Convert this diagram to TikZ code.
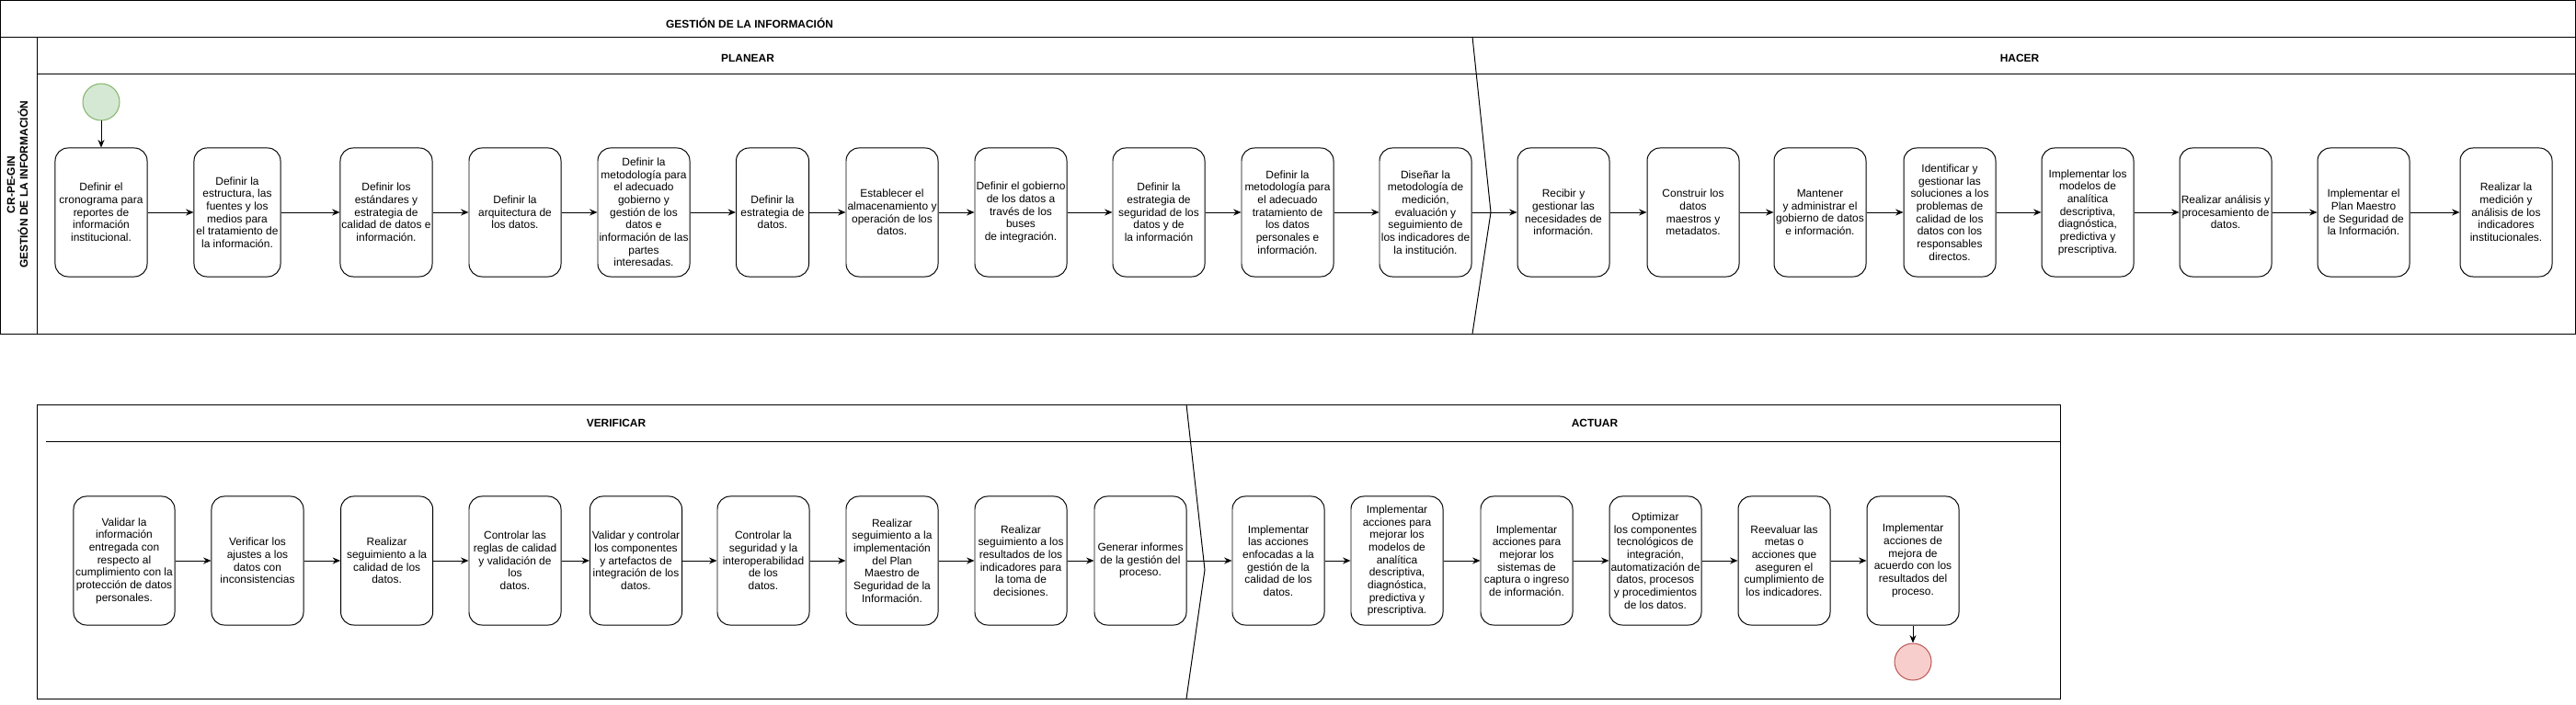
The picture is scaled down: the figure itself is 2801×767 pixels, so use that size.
\documentclass[tikz,border=0pt]{standalone}
\usepackage{fontspec}
\setmainfont{Liberation Sans}
\usetikzlibrary{arrows.meta}
\definecolor{verdeini}{HTML}{D5E8D4}
\definecolor{verdeborde}{HTML}{82B366}
\definecolor{rojofin}{HTML}{F8CECC}
\definecolor{rojoborde}{HTML}{B85450}

\begin{document}
\begin{tikzpicture}[x=0.025cm, y=-0.025cm, line width=0.7pt,
  paso/.style={draw, rounded corners=0.35cm, align=center, minimum width=2.5cm,
    minimum height=3.5cm, inner sep=1pt, font=\fontsize{8.5}{9.7}\selectfont},
  flecha/.style={-{Stealth[length=6pt,width=5pt,inset=2pt]}},
  titulo/.style={font=\fontsize{8.5}{10}\selectfont\bfseries}]
\useasboundingbox (0,0) rectangle (2801,767);
% marco superior (planear y hacer)
\draw (0.7,0.7) rectangle (2800,363);
\draw (0.7,40) -- (2800,40);
\draw (40,40) -- (40,363);
\draw (40,80) -- (2800,80);
\draw (1601,40) -- (1621,231) -- (1601,363); % separador de fases
\node[titulo] (titulo) at (815,25) {GESTIÓN DE LA INFORMACIÓN};
\node[titulo, rotate=90, align=center] (carril) at (19,201) {CR-PE-GIN\\GESTIÓN DE LA INFORMACIÓN};
\node[titulo] (planear) at (813,63) {PLANEAR};
\node[titulo] (hacer) at (2196,63) {HACER};
% marco inferior (verificar y actuar)
\draw (40,440) rectangle (2240,760);
\draw (50,480) -- (2240,480);
\draw (1290,440) -- (1310,620) -- (1290,760); % separador de fases
\node[titulo] (verificar) at (670,460) {VERIFICAR};
\node[titulo] (actuar) at (1734,460) {ACTUAR};
% inicio
\node[circle, draw=verdeborde, fill=verdeini, minimum size=1cm, inner sep=0pt] (inicio) at (110,111) {};
% actividades de planear
\node[paso] (t1) at (110,231) {Definir el\\cronograma para\\reportes de\\información\\institucional.};
\node[paso, minimum width=2.35cm] (t2) at (258,231) {Definir la\\estructura, las\\fuentes y los\\medios para\\el tratamiento de\\la información.};
\node[paso] (t3) at (420,231) {Definir los\\estándares y\\estrategia de\\calidad de datos e\\información.};
\node[paso] (t4) at (560,231) {Definir la\\arquitectura de\\los datos.};
\node[paso] (t5) at (700,231) {Definir la\\metodología para\\el adecuado\\gobierno y\\gestión de los\\datos e\\información de las\\partes\\interesadas.};
\node[paso, minimum width=1.975cm] (t6) at (840,231) {Definir la\\estrategia de\\datos.};
\node[paso] (t7) at (970,231) {Establecer el\\almacenamiento y\\operación de los\\datos.};
\node[paso] (t8) at (1110,231) {Definir el gobierno\\de los datos a\\través de los\\buses\\de integración.};
\node[paso] (t9) at (1260,231) {Definir la\\estrategia de\\seguridad de los\\datos y de\\la información};
\node[paso] (t10) at (1400,231) {Definir la\\metodología para\\el adecuado\\tratamiento de\\los datos\\personales e\\información.};
\node[paso] (t11) at (1550,231) {Diseñar la\\metodología de\\medición,\\evaluación y\\seguimiento de\\los indicadores de\\la institución.};
% actividades de hacer
\node[paso] (t12) at (1700,231) {Recibir y\\gestionar las\\necesidades de\\información.};
\node[paso] (t13) at (1841,231) {Construir los\\datos\\maestros y\\metadatos.};
\node[paso] (t14) at (1979,231) {Mantener\\y administrar el\\gobierno de datos\\e información.};
\node[paso] (t15) at (2120,231) {Identificar y\\gestionar las\\soluciones a los\\problemas de\\calidad de los\\datos con los\\responsables\\directos.};
\node[paso] (t16) at (2270,231) {Implementar los\\modelos de\\analítica\\descriptiva,\\diagnóstica,\\predictiva y\\prescriptiva.};
\node[paso] (t17) at (2420,231) {Realizar análisis y\\procesamiento de\\datos.};
\node[paso] (t18) at (2570,231) {Implementar el\\Plan Maestro\\de Seguridad de\\la Información.};
\node[paso] (t19) at (2725,231) {Realizar la\\medición y\\análisis de los\\indicadores\\institucionales.};
% actividades de verificar
\node[paso, minimum width=2.75cm] (b1) at (135,610) {Validar la\\información\\entregada con\\respecto al\\cumplimiento con la\\protección de datos\\personales.};
\node[paso] (b2) at (280,610) {Verificar los\\ajustes a los\\datos con\\inconsistencias};
\node[paso] (b3) at (420.6,610) {Realizar\\seguimiento a la\\calidad de los\\datos.};
\node[paso] (b4) at (560,610) {Controlar las\\reglas de calidad\\y validación de\\los\\datos.};
\node[paso] (b5) at (691.5,610) {Validar y controlar\\los componentes\\y artefactos de\\integración de los\\datos.};
\node[paso] (b6) at (830,610) {Controlar la\\seguridad y la\\interoperabilidad\\de los\\datos.};
\node[paso] (b7) at (970,610) {Realizar\\seguimiento a la\\implementación\\del Plan\\Maestro de\\Seguridad de la\\Información.};
\node[paso] (b8) at (1110,610) {Realizar\\seguimiento a los\\resultados de los\\indicadores para\\la toma de\\decisiones.};
\node[paso] (b9) at (1240,610) {Generar informes\\de la gestión del\\proceso.};
% actividades de actuar
\node[paso] (b10) at (1390,610) {Implementar\\las acciones\\enfocadas a la\\gestión de la\\calidad de los\\datos.};
\node[paso] (b11) at (1519,610) {Implementar\\acciones para\\mejorar los\\modelos de\\analítica\\descriptiva,\\diagnóstica,\\predictiva y\\prescriptiva.};
\node[paso] (b12) at (1660,610) {Implementar\\acciones para\\mejorar los\\sistemas de\\captura o ingreso\\de información.};
\node[paso] (b13) at (1800,610) {Optimizar\\los componentes\\tecnológicos de\\integración,\\automatización de\\datos, procesos\\y procedimientos\\de los datos.};
\node[paso] (b14) at (1940,610) {Reevaluar las\\metas o\\acciones que\\aseguren el\\cumplimiento de\\los indicadores.};
\node[paso] (b15) at (2080,610) {Implementar\\acciones de\\mejora de\\acuerdo con los\\resultados del\\proceso.};
% fin
\node[circle, draw=rojoborde, fill=rojofin, minimum size=1cm, inner sep=0pt] (fin) at (2080,720) {};
% conectores
\draw[flecha] (inicio) -- (t1);
\foreach \i [remember=\i as \j (initially 1)] in {2,...,19}
\draw[flecha] (t\j) -- (t\i);
\foreach \i [remember=\i as \j (initially 1)] in {2,...,15}
\draw[flecha] (b\j) -- (b\i);
\draw[flecha] (b15) -- (fin);
\end{tikzpicture}
\end{document}
